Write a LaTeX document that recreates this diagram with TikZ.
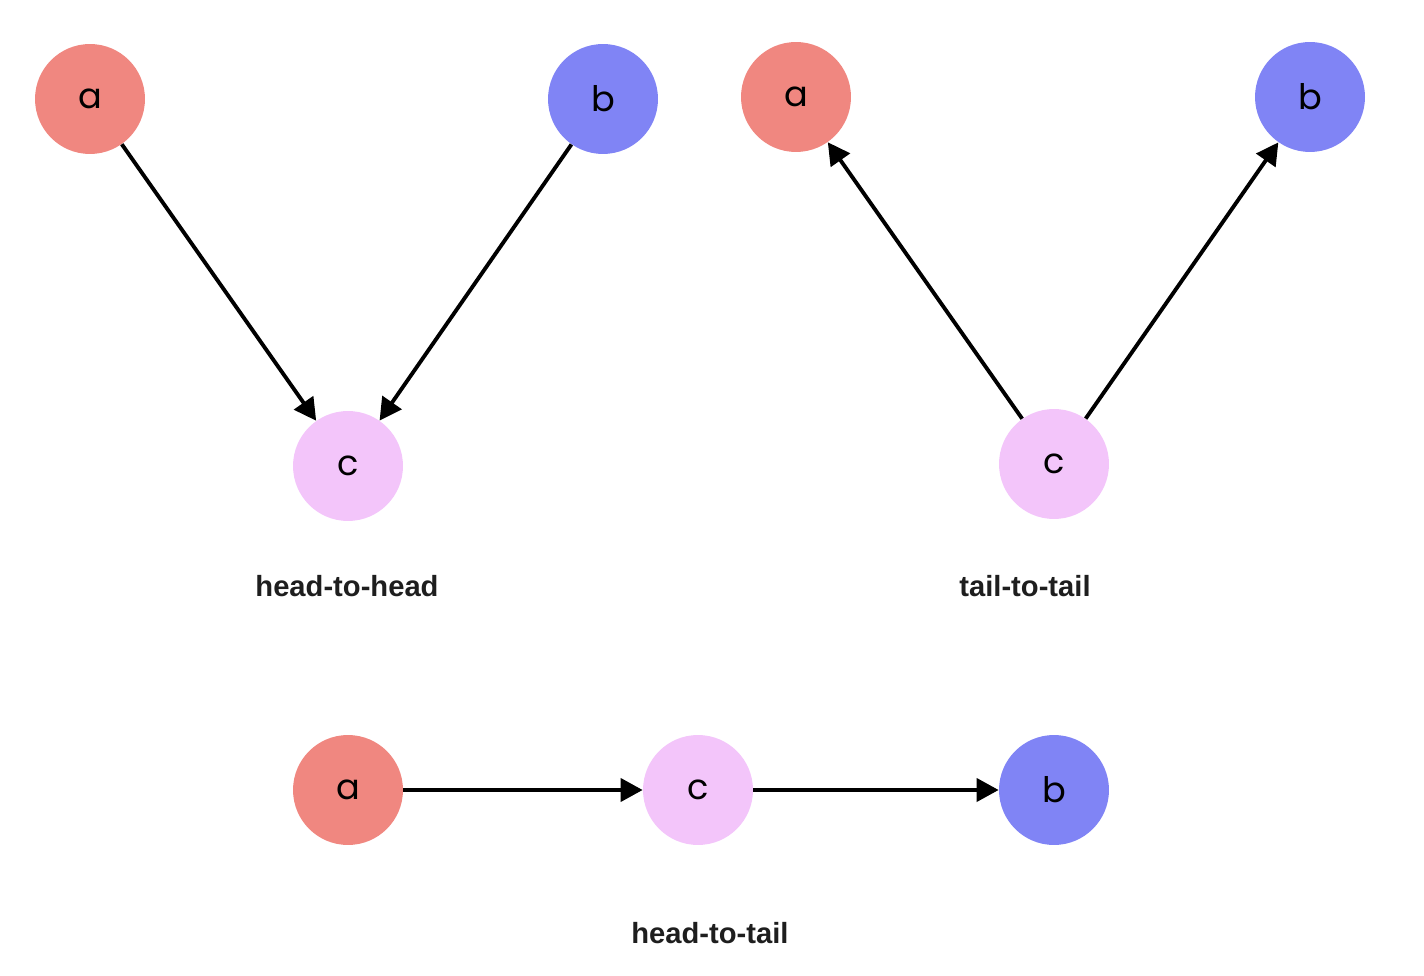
\documentclass[tikz,border=0pt]{standalone}
\usepackage{fontspec}
\usetikzlibrary{arrows.meta}
\newfontfamily\nodefont{Poppins}
\newfontfamily\labelfont{Liberation Sans}
\definecolor{colA}{RGB}{240,135,128}
\definecolor{colB}{RGB}{128,132,245}
\definecolor{colC}{RGB}{243,197,250}
\definecolor{labgray}{RGB}{30,30,30}
\begin{document}
\begin{tikzpicture}[x=0.02cm,y=-0.02cm,
  var/.style={circle,minimum size=2.2cm,inner sep=0pt,draw=none,
    font=\nodefont\fontsize{20}{24}\selectfont},
  va/.style={var,fill=colA},
  vb/.style={var,fill=colB},
  vc/.style={var,fill=colC},
  edge/.style={line width=2.2pt,draw=black,-{Triangle[length=0.44cm,width=0.46cm]}},
  caption/.style={font=\labelfont\bfseries\fontsize{16.6}{20}\selectfont,text=labgray}]
\useasboundingbox (0,0) rectangle (1424,976);

% head-to-head
\node[va] (a1) at (90,99) {a};
\node[vb] (b1) at (603,99) {b};
\node[vc] (c1) at (348,466) {c};
\draw[edge] (a1) -- (c1);
\draw[edge] (b1) -- (c1);
\node[caption] (l1) at (347,586) {head-to-head};

% tail-to-tail
\node[va] (a2) at (796,97) {a};
\node[vb] (b2) at (1310,97) {b};
\node[vc] (c2) at (1054,464) {c};
\draw[edge] (c2) -- (a2);
\draw[edge] (c2) -- (b2);
\node[caption] (l2) at (1025,586) {tail-to-tail};

% head-to-tail
\node[va] (a3) at (348,790) {a};
\node[vc] (c3) at (698,790) {c};
\node[vb] (b3) at (1054,790) {b};
\draw[edge] (a3) -- (c3);
\draw[edge] (c3) -- (b3);
\node[caption] (l3) at (710,933) {head-to-tail};
\end{tikzpicture}
\end{document}
